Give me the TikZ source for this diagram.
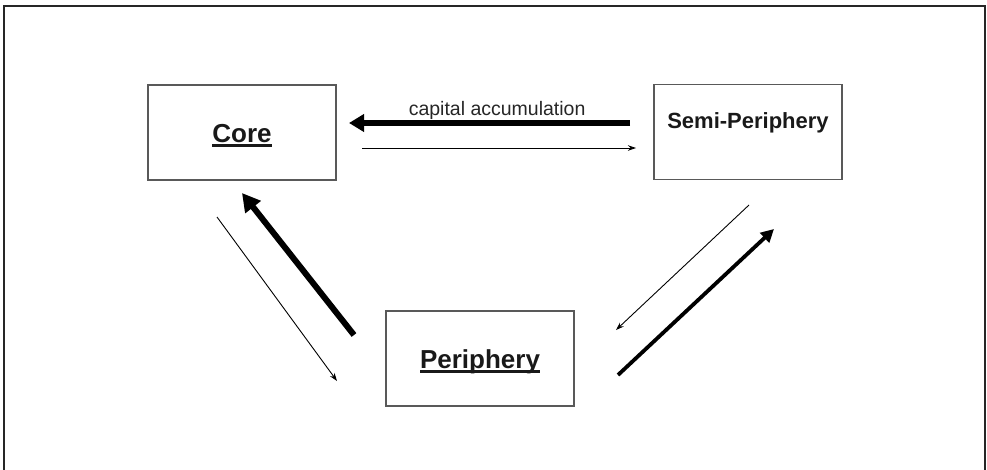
\documentclass[tikz,border=0pt]{standalone}
\usepackage{fontspec}
\setmainfont{Liberation Sans}
\usetikzlibrary{arrows.meta}
\newcommand{\undl}[1]{\setbox0\hbox{#1}\rlap{\copy0}\rule[-4.2pt]{\wd0}{2.4pt}}
\tikzset{
  caja/.style={draw=black!65, line width=1.3pt, minimum width=188pt, minimum height=95pt, inner sep=0pt, text=black!90},
  grande/.style={font=\fontsize{26}{30}\selectfont\bfseries, text height=20pt, text depth=0pt},
  gruesa/.style={line width=6pt, -{Triangle[length=15pt,width=17pt]}},
  fina/.style={line width=0.9pt, -{Stealth[length=8pt,width=5.5pt]}},
}
\begin{document}
\begin{tikzpicture}[x=1pt,y=-1pt]
\useasboundingbox (0,0) rectangle (987,469);
\draw[line width=2pt,black!85] (4,472) -- (4,6) -- (985,6) -- (985,472); % marco
\node[caja,grande] (core) at (242,132.5) {\undl{Core}};
\node[caja,font=\fontsize{22}{26}\selectfont\bfseries, text height=16pt, text depth=24pt] (semi) at (748,132) {Semi-Periphery};
\node[caja,grande] (peri) at (480,358.5) {\undl{Periphery}};
% extremos de las flechas
\coordinate (a1) at (630,123); \coordinate (a2) at (349,123);
\coordinate (b1) at (362,148); \coordinate (b2) at (636,148);
\coordinate (c1) at (354,335); \coordinate (c2) at (242,193);
\coordinate (d1) at (217,217); \coordinate (d2) at (337,381);
\coordinate (e1) at (749,205); \coordinate (e2) at (616,330);
\coordinate (f1) at (618,375); \coordinate (f2) at (774,229);
\draw[gruesa] (a1) -- (a2) node[pos=0.473,anchor=base,yshift=8pt,font=\fontsize{19.5}{22}\selectfont,text=black!85] (acc) {capital accumulation};
\draw[fina] (b1) -- (b2);
\draw[line width=6pt, -{Triangle[length=18pt,width=19pt]}] (c1) -- (c2);
\draw[fina] (d1) -- (d2);
\draw[fina] (e1) -- (e2);
\draw[line width=3.8pt, -{Triangle[length=13pt,width=13pt]}] (f1) -- (f2);
\end{tikzpicture}
\end{document}
